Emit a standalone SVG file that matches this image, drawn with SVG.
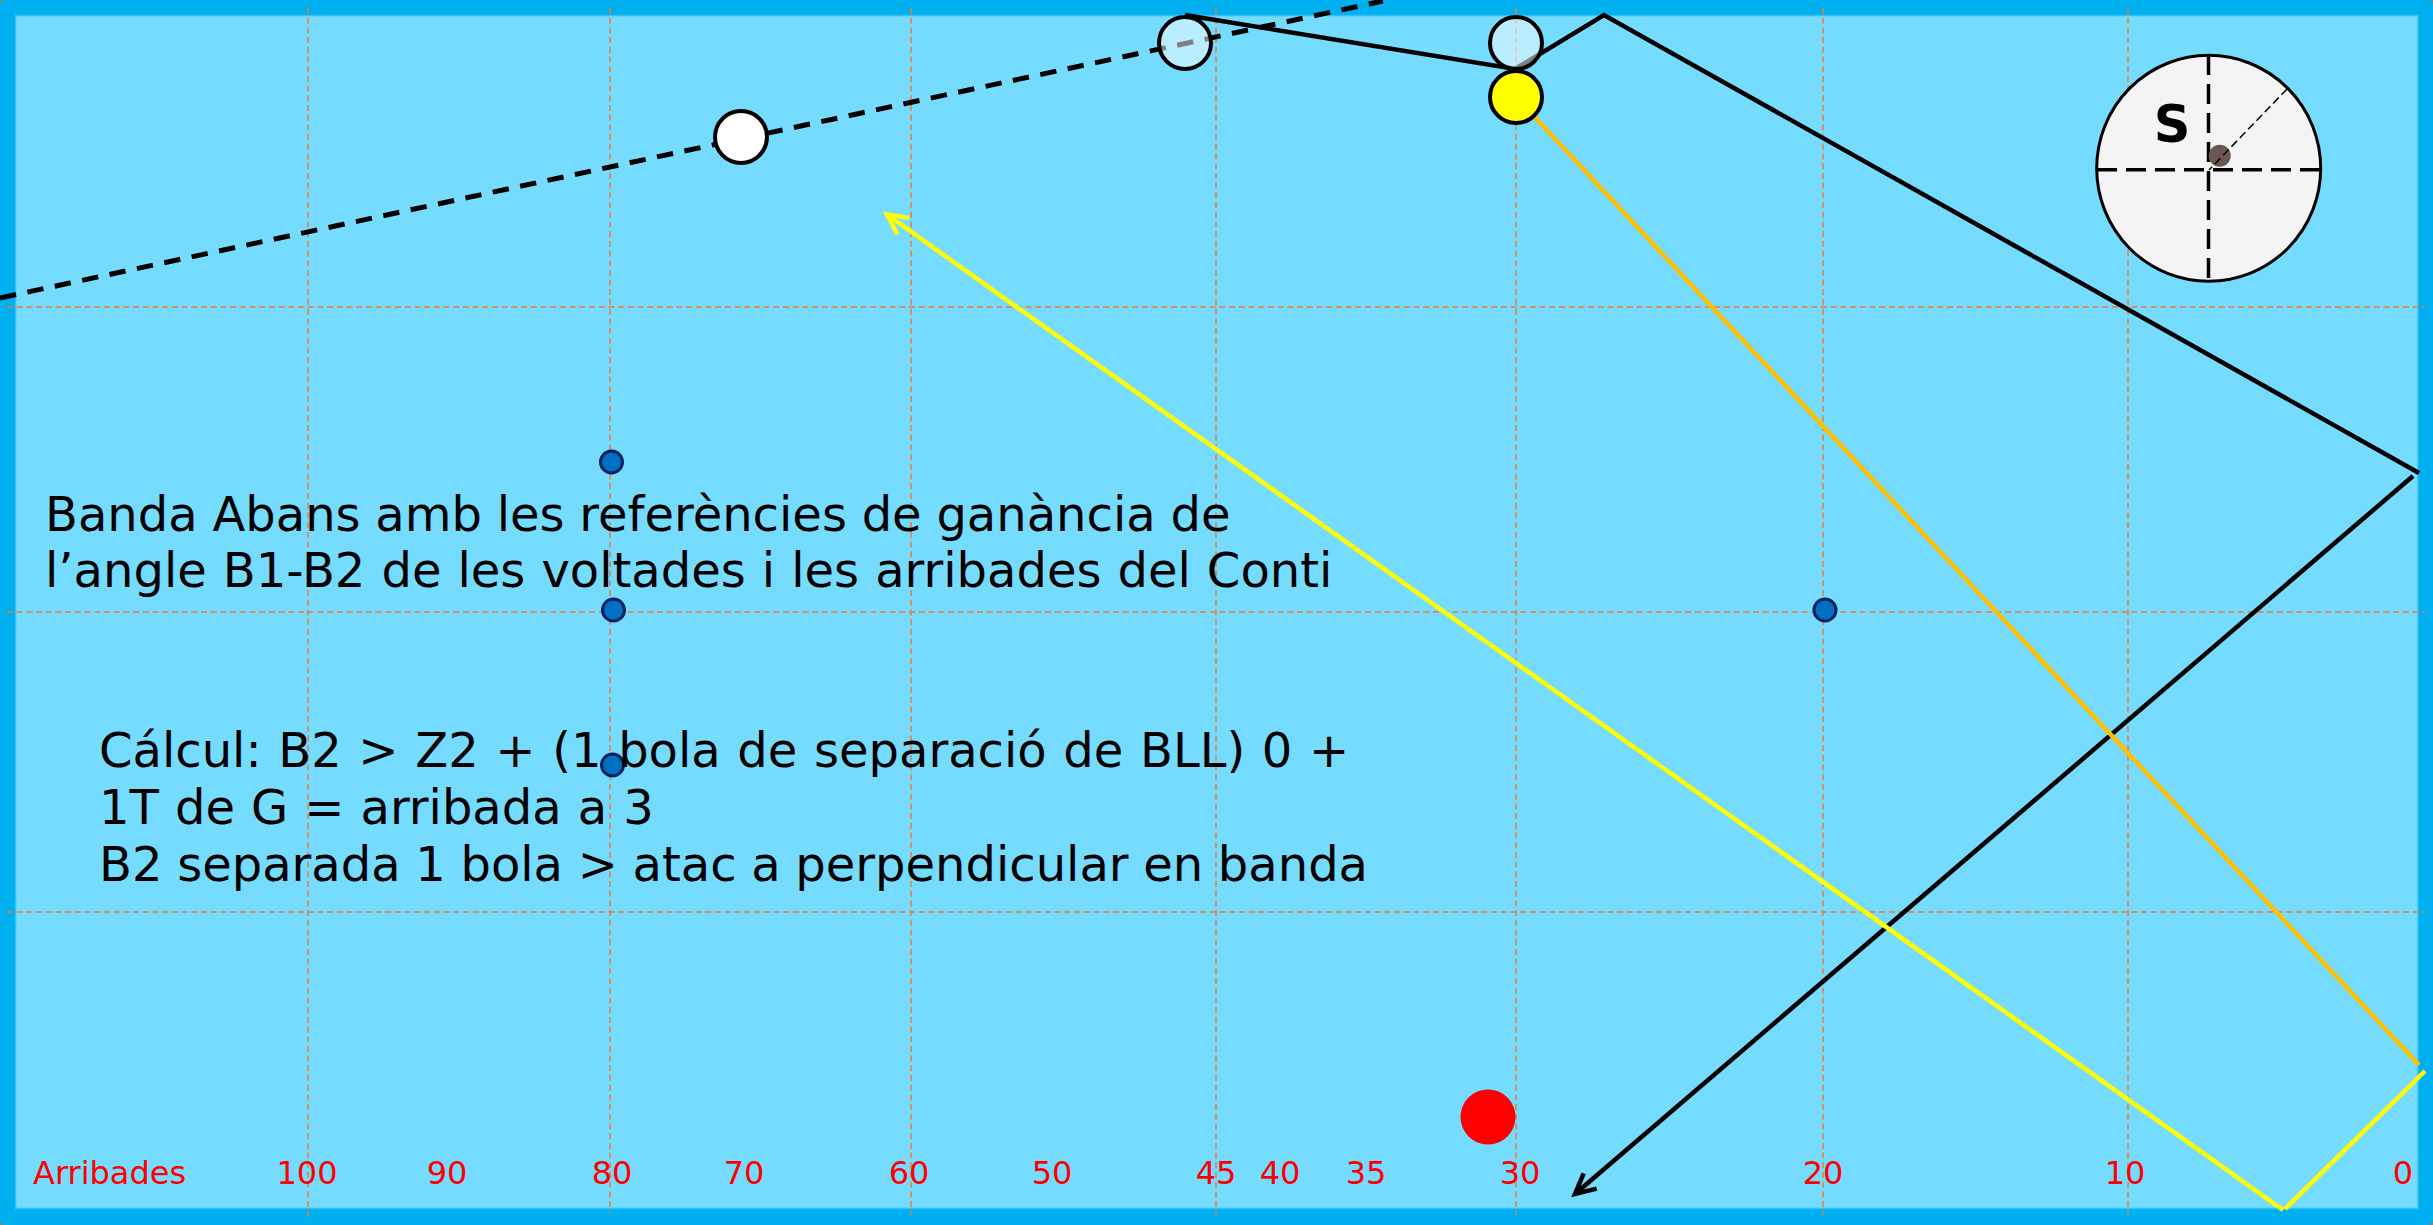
<svg xmlns="http://www.w3.org/2000/svg" width="2433" height="1225" viewBox="0 0 2433 1225">
<style>
.grid{stroke:#ed7d31;stroke-width:1.5;stroke-dasharray:6 3.7;fill:none}
.ball{stroke:#000;stroke-width:4}
.dot{fill:#0070c0;stroke:#002060;stroke-width:3}
.lab{font-family:"DejaVu Sans",sans-serif;font-size:32px;fill:#f00}
.txt{font-family:"DejaVu Sans",sans-serif;font-size:48px;fill:#000}
</style>
<defs>
<marker id="ab" markerUnits="userSpaceOnUse" markerWidth="40" markerHeight="40" refX="22" refY="12" orient="auto"><path d="M2 2L22 12L2 22" fill="none" stroke="#000" stroke-width="4.5"/></marker>
<marker id="ay" markerUnits="userSpaceOnUse" markerWidth="40" markerHeight="40" refX="22" refY="12" orient="auto"><path d="M2 2L22 12L2 22" fill="none" stroke="#ff0" stroke-width="4.5"/></marker>
</defs>
<rect x="0" y="0" width="2433" height="1225" fill="#808080"/>
<rect x="0" y="0" width="2433" height="1225" rx="5" fill="#00b0f0"/>
<rect id="table" x="15.5" y="15.5" width="2402.5" height="1193" fill="#75dbff" stroke="#33c0f5" stroke-width="1.5"/>
<g id="grid">
<path class="grid" d="M308 8V1219M610 8V1213M911 8V1215M1216 8V1217M1516 8V1215M1823 8V1215M2128 8V1215"/>
<path class="grid" d="M7 307H2425M7 612H2425M7 912H2425"/>
</g>
<g id="connectors" fill="none">
<path d="M0 298L1383 1" stroke="#000" stroke-width="5" stroke-dasharray="16.4 11.6"/>
<path d="M1185 15L1515 69L1604 15L2419 473" stroke="#000" stroke-width="4.5"/>
<path d="M2413 476L1575 1194" stroke="#000" stroke-width="4.5" marker-end="url(#ab)"/>
<path d="M1516 97L2419 1065" stroke="#ffc000" stroke-width="4.5"/>
<path d="M2425 1071L2285 1209" stroke="#ff0" stroke-width="4.5"/>
<path d="M2283 1210L887 214.5" stroke="#ff0" stroke-width="4.5" marker-end="url(#ay)"/>
</g>
<g id="ball-white"><circle class="ball" cx="741" cy="137" r="26" fill="#fff"/></g>
<g id="ball-ghost1"><circle class="ball" cx="1185" cy="43" r="26" fill="#fff" fill-opacity=".5"/></g>
<g id="ball-ghost2"><circle class="ball" cx="1516" cy="43" r="26" fill="#fff" fill-opacity=".5"/></g>
<g id="ball-yellow"><circle class="ball" cx="1516" cy="97" r="26" fill="#ff0"/></g>
<g id="ball-red"><circle cx="1488" cy="1117" r="27.5" fill="#f00"/></g>
<g id="dot1"><circle class="dot" cx="611.5" cy="462" r="11"/></g>
<g id="dot2"><circle class="dot" cx="613.5" cy="610" r="11"/></g>
<g id="dot3"><circle class="dot" cx="612.5" cy="765" r="11"/></g>
<g id="dot4"><circle class="dot" cx="1825" cy="610" r="11"/></g>
<g id="spin">
<ellipse cx="2208.7" cy="168.3" rx="112" ry="113" fill="#f4f4f4" stroke="#000" stroke-width="3"/>
<path d="M2208.5 55V282M2097 169.7H2320" fill="none" stroke="#000" stroke-width="3.5" stroke-dasharray="20 9"/>
<circle cx="2219.7" cy="155.7" r="11" fill="#6b5650"/>
<path d="M2287 89L2209 170" fill="none" stroke="#000" stroke-width="1.5" stroke-dasharray="8 4"/>
<text x="2172" y="142" text-anchor="middle" font-family="DejaVu Sans,sans-serif" font-weight="bold" font-size="51">S</text>
</g>
<g id="labels">
<text class="lab" x="33" y="1184">Arribades</text>
<text class="lab" x="307" y="1184" text-anchor="middle">100</text>
<text class="lab" x="447" y="1184" text-anchor="middle">90</text>
<text class="lab" x="612" y="1184" text-anchor="middle">80</text>
<text class="lab" x="744" y="1184" text-anchor="middle">70</text>
<text class="lab" x="909" y="1184" text-anchor="middle">60</text>
<text class="lab" x="1052" y="1184" text-anchor="middle">50</text>
<text class="lab" x="1216" y="1184" text-anchor="middle">45</text>
<text class="lab" x="1280" y="1184" text-anchor="middle">40</text>
<text class="lab" x="1366" y="1184" text-anchor="middle">35</text>
<text class="lab" x="1520" y="1184" text-anchor="middle">30</text>
<text class="lab" x="1823" y="1184" text-anchor="middle">20</text>
<text class="lab" x="2125" y="1184" text-anchor="middle">10</text>
<text class="lab" x="2403" y="1184" text-anchor="middle">0</text>
</g>
<g id="notes">
<text class="txt" x="45" y="531" word-spacing="-0.5">Banda Abans amb les referències de ganància de</text>
<text class="txt" x="45" y="587" word-spacing="0.8">l’angle B1-B2 de les voltades i les arribades del Conti</text>
<text class="txt" x="99" y="767" word-spacing="1.4">Cálcul: B2 &gt; Z2 + (1 bola de separació de BLL) 0 +</text>
<text class="txt" x="99" y="824" word-spacing="0.8">1T de G = arribada a 3</text>
<text class="txt" x="99" y="881" word-spacing="-0.6">B2 separada 1 bola &gt; atac a perpendicular en banda</text>
</g>
</svg>
